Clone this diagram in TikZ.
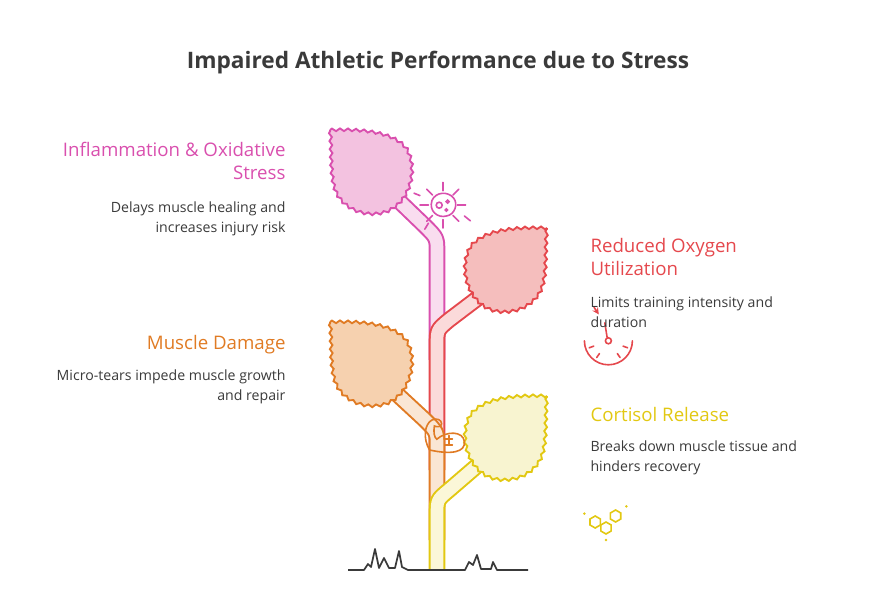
\documentclass[tikz,border=0pt]{standalone}
\usepackage{fontspec}
\setmainfont{Open Sans}
\usetikzlibrary{decorations.pathmorphing}
\definecolor{pinkln}{HTML}{D94FAE}\definecolor{pinkfl}{HTML}{F3C2E0}\definecolor{pinkst}{HTML}{F9DDEF}
\definecolor{redln}{HTML}{E5484D}\definecolor{redfl}{HTML}{F5BEBD}\definecolor{redst}{HTML}{FBDADA}
\definecolor{orgln}{HTML}{E07B24}\definecolor{orgfl}{HTML}{F6D1AF}\definecolor{orgst}{HTML}{FAE6D4}
\definecolor{yelln}{HTML}{E2C812}\definecolor{yelfl}{HTML}{F8F4D0}\definecolor{yelst}{HTML}{FBF7D8}
\definecolor{txt}{HTML}{3A3A3A}
\tikzset{every picture/.style={line width=0.75pt}}
\tikzset{
  leafshape/.style={decorate,decoration={zigzag,segment length=6,amplitude=1},line width=1.4},
  headtxt/.style={font=\fontsize{14}{17}\selectfont,inner sep=0pt},
  bodytxt/.style={font=\fontsize{10.6}{15}\selectfont,text=txt,inner sep=0pt},
  icon/.style={line width=1.2,line cap=round,scale=1.2}
}
% stem: outline then light core
\newcommand{\stem}[3]{\draw[#1,line width=12.5,line join=round] #3;
  \draw[#2,line width=9.5,line join=round] #3;}
% leaf with sharp corner at origin
\newcommand{\leaf}[4]{\begin{scope}[shift={(#1)},xscale=#2]
  \draw[leafshape,draw=#3,fill=#4] (0,0) .. controls (25,-1) and (62,0) .. (76,18)
    .. controls (88,36) and (82,70) .. (58,81) .. controls (38,89) and (10,80) .. (4,56)
    .. controls (0,40) and (2,20) .. (0,0) -- cycle;
  \end{scope}}
\begin{document}
\begin{tikzpicture}[x=0.75pt,y=0.75pt,yscale=-1,xscale=1]
\useasboundingbox (0,0) rectangle (876,599);

% title
\node[font=\fontsize{17}{20}\selectfont\bfseries,text=txt] (title) at (438,63) {Impaired Athletic Performance due to Stress};

% stems
\stem{pinkln}{pinkst}{(398,200) -- (425,226) .. controls (437,238) .. (437,252) -- (437,360)}
\stem{redln}{redst}{(478,298) -- (449,320) .. controls (437,330) .. (437,345) -- (437,470)}
\stem{orgln}{orgst}{(398,395) -- (425,420) .. controls (437,432) .. (437,446) -- (437,540)}
\stem{yelln}{yelst}{(478,465) -- (449,490) .. controls (437,500) .. (437,515) -- (437,570)}

% leaves
\leaf{330,130}{1}{pinkln}{pinkfl}
\leaf{547,228}{-1}{redln}{redfl}
\leaf{330,322}{1}{orgln}{orgfl}
\leaf{547,396}{-1}{yelln}{yelfl}

% icon: inflammation cell
\begin{scope}[icon,draw=pinkln,shift={(369,171)}]
  \draw (-9,-4) .. controls (-6,-11) and (4,-12) .. (9,-6) .. controls (13,-1) and (10,8) .. (3,9) .. controls (-4,11) and (-12,5) .. (-9,-4);
  \draw (-3,0) circle (2.5); \draw (4,-3) circle (1.2); \draw (3,4) circle (1);
  \foreach \a in {0,45,...,315} \draw (\a:12) -- (\a:19);
  \draw (-19,-8) -- (-24,-10); \draw (18,9) -- (23,13); \draw (-12,15) -- (-15,20);
\end{scope}

% icon: oxygen gauge
\begin{scope}[icon,draw=redln,shift={(507,284)}]
  \draw (-20,0) arc (180:0:20);
  \foreach \a in {20,55,125,160} \draw (\a:13) -- (\a:17);
  \draw (0,0) circle (2.5); \draw (-1,-2.5) -- (-3,-15);
  \draw[-stealth] (-12,-28) -- (-8,-22);
\end{scope}

% icon: muscle arm
\begin{scope}[icon,draw=orgln,shift={(370,365)}]
  \draw (-12,10) .. controls (-18,0) and (-16,-12) .. (-10,-15) .. controls (-6,-17) and (-2,-15) .. (-2,-12)
    .. controls (-2,-9) and (-6,-9) .. (-8,-10) .. controls (-9,-5) and (-8,0) .. (-6,1)
    .. controls (2,-6) and (16,-6) .. (17,3) .. controls (18,12) and (6,14) .. (-12,10);
  \draw (4,-2) -- (4,6) (1,1) -- (7,1) (1,6) -- (7,6);
\end{scope}

% icon: cortisol molecule
\begin{scope}[icon,draw=yelln,shift={(505,432)}]
  \foreach \c in {(-9,3),(0,8),(8,-2)}
    \draw \c +(30:5) -- +(90:5) -- +(150:5) -- +(210:5) -- +(270:5) -- +(330:5) -- cycle;
  \fill[yelln] (-18,-4) circle (1.2) (17,-10) circle (1.2) (0,18) circle (1.2);
\end{scope}

% ground
\draw[txt,line width=1.3,line join=round] (348,570) -- (364,570) -- (368,564) -- (371,567) -- (375,549) -- (379,568) -- (384,558) -- (389,568) -- (395,568) -- (399,551) -- (402,567) -- (408,570) -- (465,570) -- (469,562) -- (473,565) -- (477,555) -- (481,569) -- (491,569) -- (493,562) -- (497,570) -- (528,570);

% texts
\node[headtxt,text=pinkln,anchor=north east,align=right] (h1) at (286,142) {Inflammation \& Oxidative\\Stress};
\node[bodytxt,anchor=north east,align=right] (b1) at (286,201) {Delays muscle healing and\\increases injury risk};
\node[headtxt,text=redln,anchor=north west,align=left] (h2) at (590,238) {Reduced Oxygen\\Utilization};
\node[bodytxt,anchor=north west,align=left] (b2) at (590,296) {Limits training intensity and\\duration};
\node[headtxt,text=orgln,anchor=north east,align=right] (h3) at (286,335) {Muscle Damage};
\node[bodytxt,anchor=north east,align=right] (b3) at (286,369) {Micro-tears impede muscle growth\\and repair};
\node[headtxt,text=yelln,anchor=north west,align=left] (h4) at (590,407) {Cortisol Release};
\node[bodytxt,anchor=north west,align=left] (b4) at (590,440) {Breaks down muscle tissue and\\hinders recovery};
\end{tikzpicture}
\end{document}
